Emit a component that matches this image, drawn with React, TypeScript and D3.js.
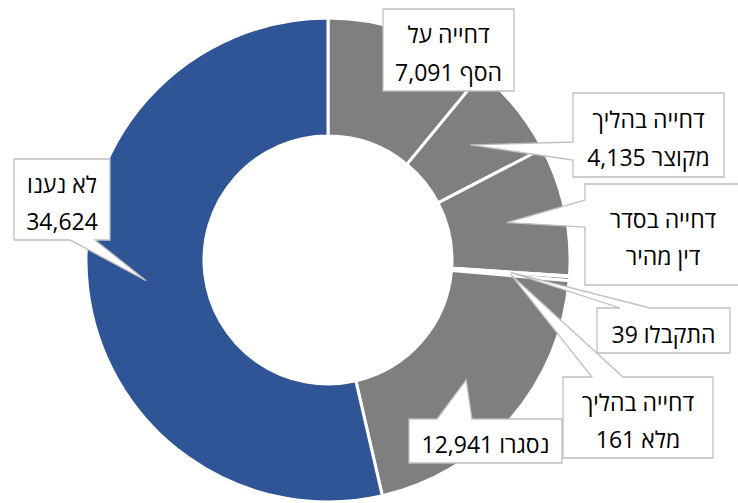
import React from "react";
import * as d3 from "d3";

// ---- data ----
const categories = [
  "דחייה על הסף",
  "דחייה בהליך מקוצר",
  "דחייה בסדר דין מהיר",
  "התקבלו",
  "דחייה בהליך מלא",
  "נסגרו",
  "לא נענו",
];
const values = [7091, 4135, 5600, 39, 161, 12941, 34624];
const showValue = [true, true, false, true, true, true, true];
const sliceColors = ["#7F7F7F", "#7F7F7F", "#7F7F7F", "#7F7F7F", "#7F7F7F", "#7F7F7F", "#2F5597"];

// ---- layout of the callouts (positions only) ----
type Side = "none" | "left" | "top" | "bottom";
const labelBoxes: { x: number; y: number; w: number; h: number; side: Side; a: number; b: number; firstLineWords: number }[] = [
  { x: 383, y: 9, w: 131, h: 82, side: "none", a: 0, b: 0, firstLineWords: 2 },
  { x: 573, y: 93, w: 151, h: 84, side: "left", a: 142, b: 160, firstLineWords: 2 },
  { x: 585, y: 184, w: 156, h: 101, side: "left", a: 200, b: 227, firstLineWords: 2 },
  { x: 597, y: 308, w: 133, h: 45, side: "top", a: 620, b: 650, firstLineWords: 99 },
  { x: 563, y: 377, w: 150, h: 81, side: "top", a: 592, b: 623, firstLineWords: 2 },
  { x: 409, y: 419, w: 153, h: 44, side: "top", a: 437, b: 472, firstLineWords: 99 },
  { x: 14, y: 159, w: 96, h: 81, side: "bottom", a: 70, b: 95, firstLineWords: 99 },
];
const twoLine = [true, true, true, false, true, false, true];

const W = 738;
const H = 503;
const cx = 328;
const cy = 260;
const rOuter = 242;
const rInner = 124;
const FONT = "'Open Sans', 'DejaVu Sans', sans-serif";
const FS = 23;
const LINE = 37.5;

function calloutPath(
  bx: { x: number; y: number; w: number; h: number; side: Side; a: number; b: number },
  tx: number,
  ty: number
) {
  const { x, y, w, h, side, a, b } = bx;
  const p: string[] = [`M${x},${y}`];
  if (side === "top") p.push(`L${a},${y}`, `L${tx},${ty}`, `L${b},${y}`);
  p.push(`L${x + w},${y}`, `L${x + w},${y + h}`);
  if (side === "bottom") p.push(`L${b},${y + h}`, `L${tx},${ty}`, `L${a},${y + h}`);
  p.push(`L${x},${y + h}`);
  if (side === "left") p.push(`L${x},${b}`, `L${tx},${ty}`, `L${x},${a}`);
  p.push("Z");
  return p.join(" ");
}

export default function App() {
  const fmt = d3.format(",");
  const pie = d3
    .pie<number>()
    .sort(null)
    .value((d) => d)
    .startAngle(0)
    .endAngle(2 * Math.PI);
  const arcs = pie(values);
  const arcGen = d3.arc<d3.PieArcDatum<number>>().innerRadius(rInner).outerRadius(rOuter);

  const lines = categories.map((c, i) => {
    const full = showValue[i] ? `${c} ${fmt(values[i])}` : c;
    if (!twoLine[i]) return [full];
    if (i === 6) return [c, fmt(values[i])];
    const words = full.split(" ");
    const k = labelBoxes[i].firstLineWords;
    return [words.slice(0, k).join(" "), words.slice(k).join(" ")];
  });

  return (
    <div style={{ position: "absolute", left: 0, top: 0 }}>
      <svg width={W} height={H} style={{ display: "block", background: "#fff" }}>
        <g transform={`translate(${cx},${cy})`}>
          {arcs.map((d, i) => (
            <path key={i} d={arcGen(d) || ""} fill={sliceColors[i]} stroke="#fff" strokeWidth={3} />
          ))}
        </g>
        {arcs.map((d, i) => {
          const [px, py] = arcGen.centroid(d);
          const bx = labelBoxes[i];
          const ls = lines[i];
          const mx = bx.x + bx.w / 2;
          const my = bx.y + bx.h / 2;
          return (
            <g key={i}>
              <path
                d={calloutPath(bx, cx + px, cy + py)}
                fill="#fff"
                stroke="#BFBFBF"
                strokeWidth={1.3}
                strokeLinejoin="miter"
              />
              {ls.map((t, j) => (
                <text
                  key={j}
                  x={mx}
                  y={my + 12 + (j - (ls.length - 1) / 2) * LINE}
                  textAnchor="middle"
                  direction="rtl"
                  style={{ direction: "rtl", unicodeBidi: "embed" } as any}
                  fontFamily={FONT}
                  fontSize={FS}
                  fill="#000"
                >
                  {t}
                </text>
              ))}
            </g>
          );
        })}
      </svg>
    </div>
  );
}
